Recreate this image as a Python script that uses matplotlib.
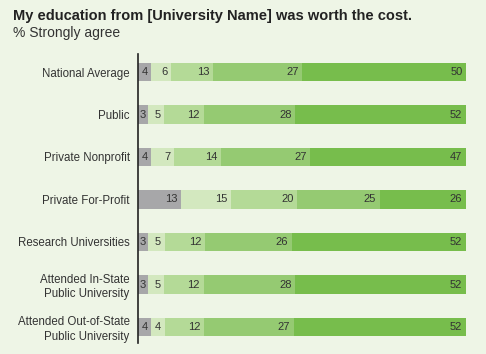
import numpy as np
import matplotlib.pyplot as plt

categories = ["National Average", "Public", "Private Nonprofit", "Private For-Profit",
              "Research Universities", "Attended In-State\nPublic University",
              "Attended Out-of-State\nPublic University"]
# segments from left (strongly disagree) to right (strongly agree)
seg1 = [4, 3, 4, 13, 3, 3, 4]
seg2 = [6, 5, 7, 15, 5, 5, 4]
seg3 = [13, 12, 14, 20, 12, 12, 12]
seg4 = [27, 28, 27, 25, 26, 28, 27]
seg5 = [50, 52, 47, 26, 52, 52, 52]

colors = ["#a7a7a9", "#d3e8bf", "#b4da97", "#95ca72", "#77bd4c"]
bg = "#eef5e6"
txt = "#333333"

plt.rcParams['font.family'] = ['Liberation Sans', 'DejaVu Sans']

fig = plt.figure(figsize=(4.86, 3.54), dpi=100, facecolor=bg)
ax = fig.add_axes([138/486, 1-343/354, 328/486, 289/354])
ax.set_facecolor(bg)

segs = np.array([seg1, seg2, seg3, seg4, seg5], dtype=float)
# bars are drawn as shares of the row total (rounded labels do not always add to 100)
shares = segs / segs.sum(axis=0) * 100

y = np.arange(len(categories))
left = np.zeros(len(categories))
for vals, widths, c in zip(segs, shares, colors):
    ax.barh(y, widths, left=left, height=0.43, color=c, edgecolor='none')
    for yi, l, v, w in zip(y, left, vals, widths):
        if w < 5:
            # tiny segments: centre the number
            ax.text(l + w / 2, yi, f"{int(v)}", ha='center', va='center',
                    fontsize=8, color=txt)
        else:
            ax.text(l + w - 1.1, yi, f"{int(v)}", ha='right', va='center',
                    fontsize=8, color=txt)
    left += widths

ax.set_xlim(0, 100)
ax.set_ylim(6 + 16/42.5, -18/42.5)
ax.set_yticks(y)
ax.set_yticklabels(categories, fontsize=8.3, color=txt, linespacing=1.25)
ax.tick_params(axis='y', length=0, pad=6)
ax.set_xticks([])
for s in ['top', 'right', 'bottom']:
    ax.spines[s].set_visible(False)
ax.spines['left'].set_color('#222222')
ax.spines['left'].set_linewidth(1.2)

fig.text(13/486, 1-20/354, "My education from [University Name] was worth the cost.",
         fontsize=10.5, fontweight='bold', color='#222222', va='baseline')
fig.text(13/486, 1-37/354, "% Strongly agree", fontsize=10, color='#333333', va='baseline')

fig.savefig("out.png", dpi=100, facecolor=bg)
